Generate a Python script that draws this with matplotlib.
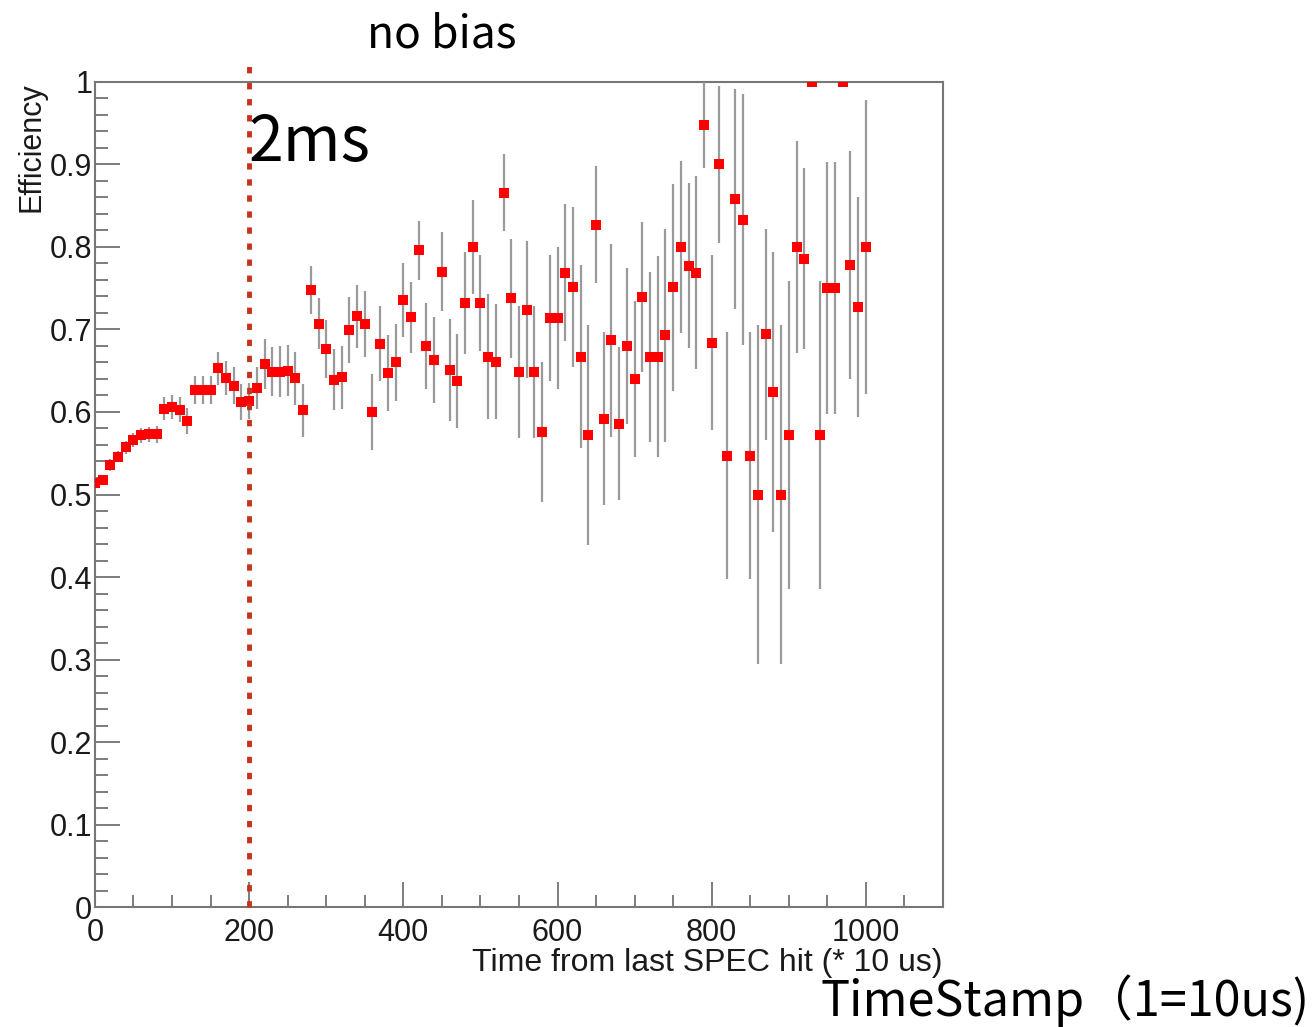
import matplotlib.pyplot as plt
import matplotlib.ticker as ticker
import numpy as np

# Centres des bins (pas de 10 en unités de 10 us)
temps = np.arange(0, 1001, 10)

efficacite = [
    0.514, 0.517, 0.536, 0.546, 0.557, 0.566, 0.572, 0.573, 0.573, 0.604,
    0.606, 0.603, 0.589, 0.627, 0.627, 0.627, 0.653, 0.641, 0.632, 0.612,
    0.613, 0.629, 0.658, 0.649, 0.649, 0.650, 0.641, 0.602, 0.748, 0.707,
    0.676, 0.639, 0.642, 0.699, 0.716, 0.707, 0.600, 0.683, 0.647, 0.660,
    0.736, 0.715, 0.796, 0.680, 0.663, 0.770, 0.651, 0.638, 0.732, 0.800,
    0.732, 0.667, 0.661, 0.866, 0.738, 0.648, 0.724, 0.648, 0.576, 0.714,
    0.714, 0.769, 0.751, 0.667, 0.572, 0.827, 0.592, 0.687, 0.586, 0.680,
    0.640, 0.739, 0.667, 0.667, 0.693, 0.751, 0.800, 0.777, 0.769, 0.948,
    0.684, 0.900, 0.547, 0.858, 0.833, 0.547, 0.500, 0.694, 0.624, 0.500,
    0.572, 0.800, 0.786, 1.000, 0.572, 0.750, 0.750, 1.000, 0.778, 0.727,
    0.800,
]

incertitude = [
    0.006, 0.006, 0.007, 0.007, 0.008, 0.008, 0.009, 0.009, 0.010, 0.014,
    0.015, 0.015, 0.016, 0.017, 0.017, 0.017, 0.020, 0.021, 0.022, 0.022,
    0.022, 0.025, 0.030, 0.030, 0.031, 0.031, 0.032, 0.032, 0.029, 0.031,
    0.035, 0.037, 0.038, 0.040, 0.038, 0.040, 0.046, 0.045, 0.046, 0.047,
    0.045, 0.043, 0.036, 0.052, 0.052, 0.048, 0.062, 0.057, 0.062, 0.057,
    0.058, 0.076, 0.070, 0.047, 0.072, 0.080, 0.083, 0.080, 0.085, 0.076,
    0.086, 0.083, 0.097, 0.111, 0.133, 0.071, 0.105, 0.117, 0.093, 0.094,
    0.095, 0.091, 0.103, 0.122, 0.129, 0.125, 0.104, 0.100, 0.117, 0.052,
    0.106, 0.095, 0.150, 0.133, 0.152, 0.150, 0.205, 0.128, 0.170, 0.205,
    0.187, 0.128, 0.110, 0.000, 0.187, 0.153, 0.153, 0.000, 0.138, 0.133,
    0.178,
]

seuil = 200  # 2 ms
texte_haut = "no bias"
texte_seuil = "2ms"
texte_unite = "TimeStamp（1=10us)"


def definir_graphique():
    """Défini la figure et les axes façon ROOT"""
    graphique = plt.figure(figsize=(13.15, 10.27), dpi=100)
    axes = graphique.add_axes([0.0722, 0.1168, 0.6449, 0.8034])

    axes.set_xlim(0, 1100)
    axes.set_ylim(0, 1)
    axes.xaxis.set_major_locator(ticker.MultipleLocator(200))
    axes.xaxis.set_minor_locator(ticker.MultipleLocator(50))
    axes.yaxis.set_major_locator(ticker.MultipleLocator(0.1))
    axes.yaxis.set_minor_locator(ticker.MultipleLocator(0.02))
    axes.yaxis.set_major_formatter(ticker.FuncFormatter(lambda v, p: f"{v:g}"))

    for cote in axes.spines.values():
        cote.set_color("#777")
        cote.set_linewidth(1.5)

    axes.tick_params(which="both", direction="in", color="#666", width=1.2,
                     labelsize=22, labelcolor="#1a1a1a", top=False, right=False)
    axes.tick_params(which="major", length=18)
    axes.tick_params(which="minor", length=9)
    axes.tick_params(axis="y", pad=2)
    axes.tick_params(axis="x", pad=8)

    axes.set_xlabel("Time from last SPEC hit (* 10 us)", fontsize=23,
                    color="#1a1a1a", loc="right")
    axes.xaxis.set_label_coords(1.0, -0.050)
    axes.set_ylabel("Efficiency", fontsize=22, color="#1a1a1a", loc="top")
    axes.yaxis.set_label_coords(-0.057, 1.0)

    return graphique, axes


def modeliser(graphique, axes):
    """Ajoute les points, les barres d'erreur et les annotations"""
    barres = axes.errorbar(
        temps, efficacite, yerr=incertitude,
        linestyle="None", marker="s", markersize=7.5, color="#ff0000",
        markeredgewidth=0, ecolor="#9a9a9a", elinewidth=1.6,
        capsize=2, capthick=1.2, zorder=3,
    )
    for cap in barres[1]:
        cap.set_color("#555")

    # Ligne pointillée à 2 ms
    axes.plot([seuil, seuil], [0, 1.03], color="#c8321c", linewidth=3.5,
              linestyle=(0, (1.3, 2.0)), clip_on=False, zorder=4)

    police_jp = ["Noto Sans CJK JP", "DejaVu Sans"]
    graphique.text(0.336, 0.966, texte_haut, ha="center", va="center",
                   fontsize=32, family=police_jp)
    graphique.text(0.1886, 0.8608, texte_seuil, ha="left", va="center",
                   fontsize=45, family=police_jp)
    graphique.text(0.996, 0.026, texte_unite, ha="right", va="center",
                   fontsize=35, family=police_jp)


def main():
    """Fonction principale du programme"""
    plt.rcParams["font.family"] = ["Liberation Sans", "DejaVu Sans"]
    graphique, axes = definir_graphique()
    modeliser(graphique, axes)
    graphique.savefig("out.png", dpi=100)


if __name__ == "__main__":
    main()
